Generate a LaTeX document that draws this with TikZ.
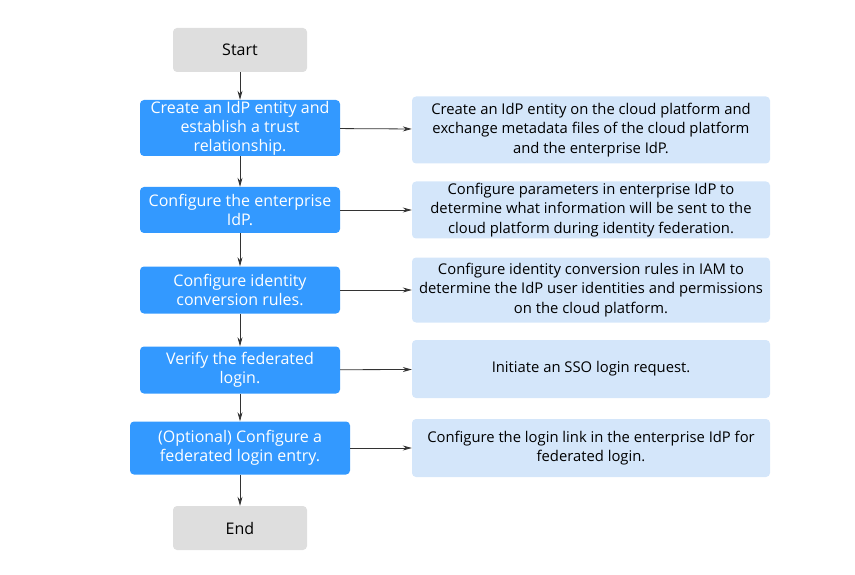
\documentclass[tikz,border=0pt]{standalone}
\usepackage{fontspec}
\setmainfont{Open Sans}
\usepackage{tikz}
\usetikzlibrary{arrows.meta, positioning}

\definecolor{stepblue}{RGB}{51,153,255}
\definecolor{noteblue}{RGB}{212,230,250}
\definecolor{termgray}{RGB}{222,222,222}
\definecolor{linegray}{RGB}{51,51,51}

\tikzset{
    termbox/.style={draw=none, fill=termgray, rounded corners=4pt, minimum width=134pt, minimum height=44pt, font=\fontsize{16}{19}\selectfont, text=black},
    stepbox/.style={draw=none, fill=stepblue, rounded corners=4pt, minimum width=200pt, align=center, font=\fontsize{16}{19}\selectfont, text=white, inner sep=0pt},
    notebox/.style={draw=none, fill=noteblue, rounded corners=4pt, minimum width=358pt, align=center, font=\fontsize{14.8}{19.5}\selectfont, text=black, inner sep=0pt},
    flow/.style={draw=linegray, line width=0.8pt, -{Stealth[length=9pt, width=5pt]}}
}

\begin{document}
\begin{tikzpicture}[x=1pt, y=-1pt]
    \useasboundingbox (0,0) rectangle (855,575);

    % Etapes (colonne de gauche)
    \node[termbox] (start) at (240, 50) {Start};
    \node[stepbox, minimum height=56pt] (s1) at (240, 128) {Create an IdP entity and\\establish a trust\\relationship.};
    \node[stepbox, minimum height=46pt] (s2) at (240, 210) {Configure the enterprise\\IdP.};
    \node[stepbox, minimum height=47pt] (s3) at (240, 290) {Configure identity\\conversion rules.};
    \node[stepbox, minimum height=47pt] (s4) at (240, 370) {Verify the federated\\login.};
    \node[stepbox, minimum height=53pt, minimum width=220pt] (s5) at (240, 448) {(Optional) Configure a\\federated login entry.};
    \node[termbox] (end) at (240, 528) {End};

    % Descriptions (colonne de droite)
    \node[notebox, minimum height=67pt] (d1) at (591, 130) {Create an IdP entity on the cloud platform and\\exchange metadata files of the cloud platform\\and the enterprise IdP.};
    \node[notebox, minimum height=57pt] (d2) at (591, 210) {Configure parameters in enterprise IdP to\\determine what information will be sent to the\\cloud platform during identity federation.};
    \node[notebox, minimum height=65pt] (d3) at (591, 290) {Configure identity conversion rules in IAM to\\determine the IdP user identities and permissions\\on the cloud platform.};
    \node[notebox, minimum height=58pt] (d4) at (591, 369) {Initiate an SSO login request.};
    \node[notebox, minimum height=58pt] (d5) at (591, 448) {Configure the login link in the enterprise IdP for\\federated login.};

    % Fleches verticales
    \foreach \a/\b in {start/s1, s1/s2, s2/s3, s3/s4, s4/s5, s5/end} {
        \draw[flow] (\a) -- (\b);
    }

    % Fleches horizontales
    \foreach \i in {1,...,5} {
        \draw[flow] (s\i) -- (d\i);
    }
\end{tikzpicture}
\end{document}
